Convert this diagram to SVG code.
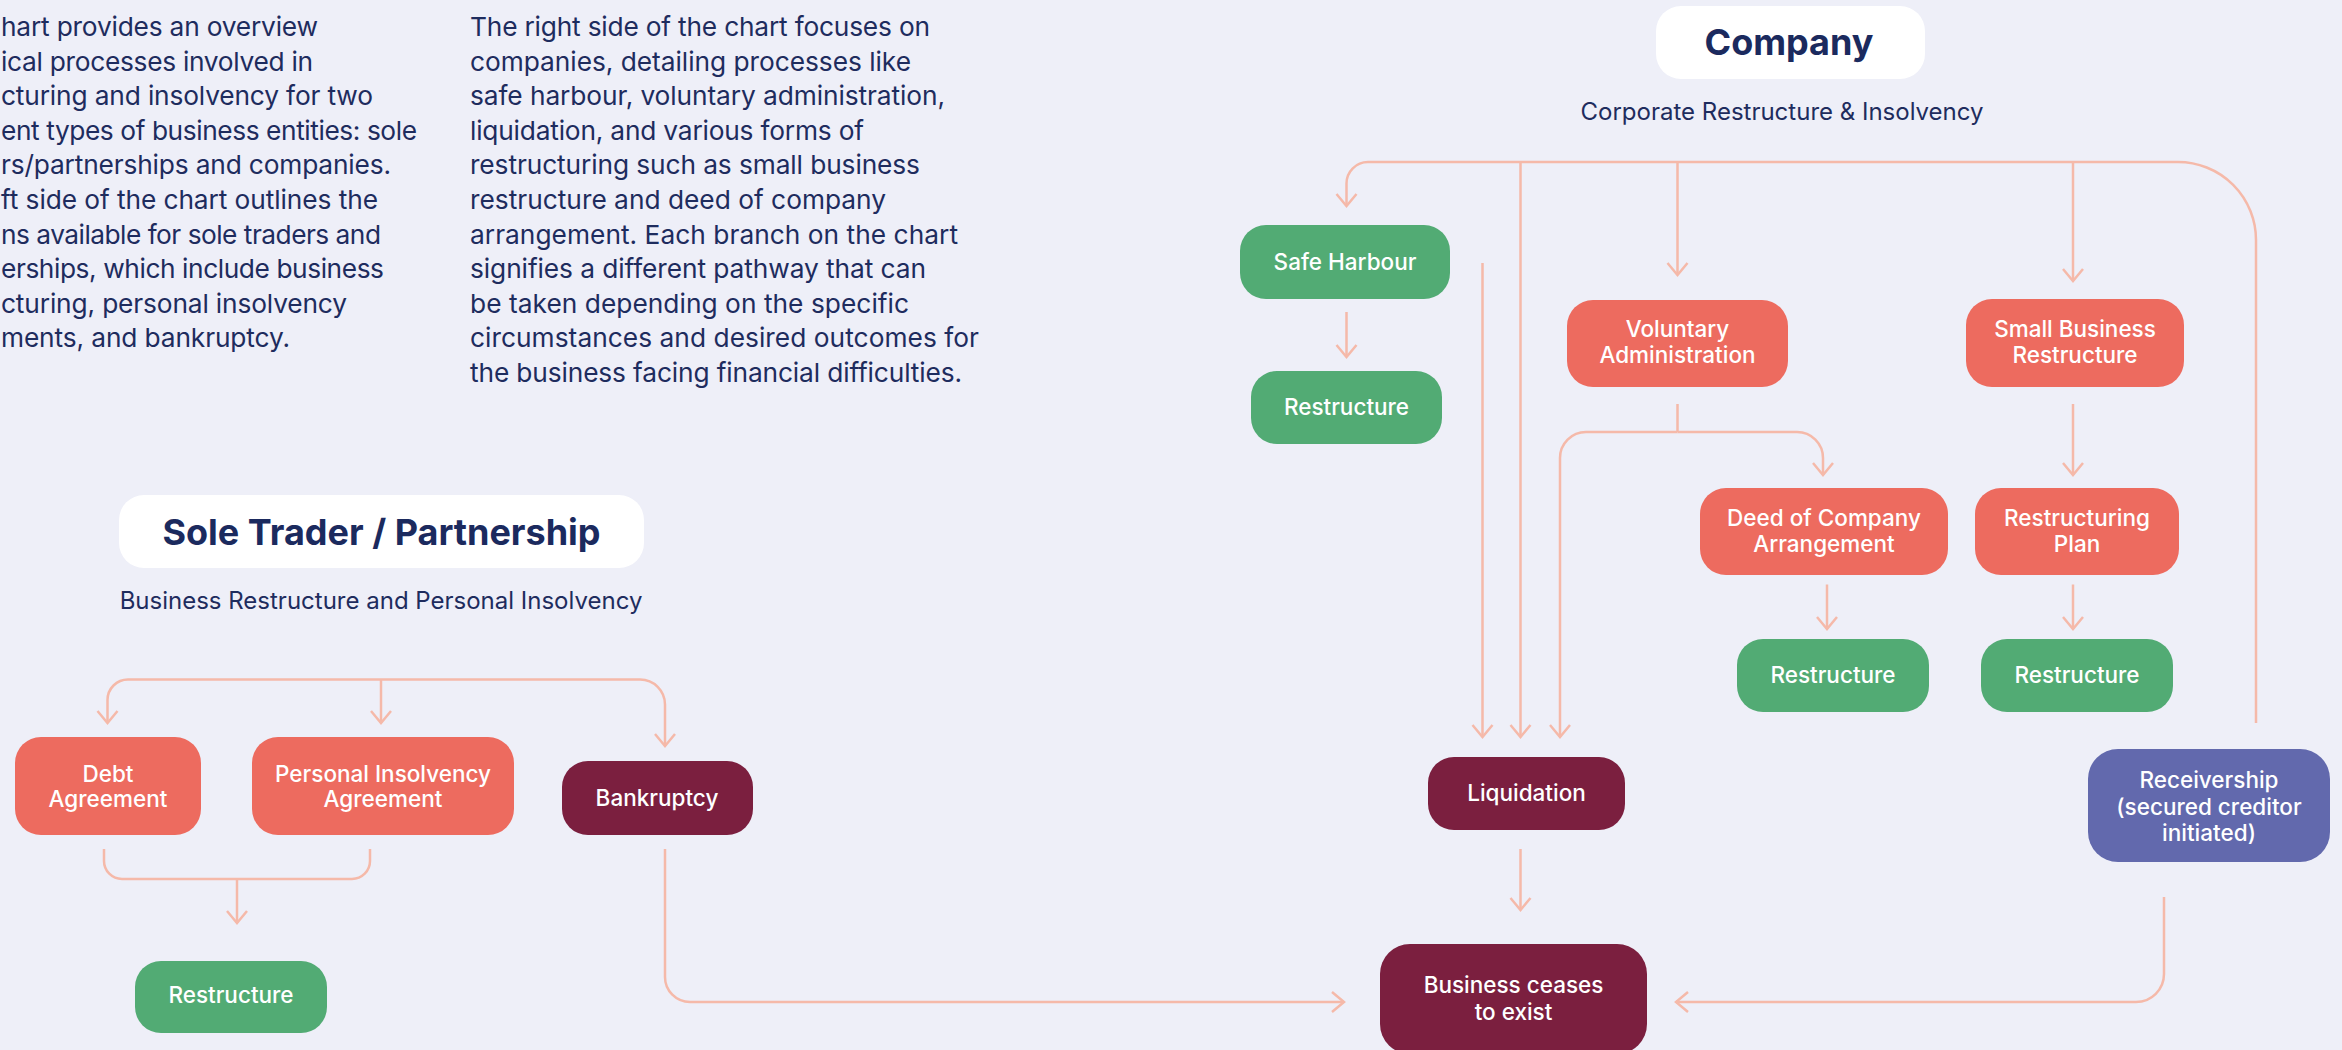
<svg xmlns="http://www.w3.org/2000/svg" width="2342" height="1050" viewBox="0 0 2342 1050">
<style>
.bg{fill:#eeeff8}
.body{font-family:Inter,"Liberation Sans",sans-serif;font-size:26.3px;fill:#1e2c5e}
.title{font-family:Inter,"Liberation Sans",sans-serif;font-size:36px;font-weight:700;fill:#1b2a5e;text-anchor:middle}
.sub{font-family:Inter,"Liberation Sans",sans-serif;font-size:24px;fill:#1e2c5e;text-anchor:middle}
.tbox{fill:#ffffff}
.lbl{font-family:Inter,"Liberation Sans",sans-serif;font-size:22.5px;font-weight:500;fill:#ffffff;text-anchor:middle}
.coral{fill:#ed6b5f}
.green{fill:#52ab74}
.maroon{fill:#7b1f3f}
.purple{fill:#6269ad}
.conn path{fill:none;stroke:#f5b9a9;stroke-width:2.5}
</style>
<defs>
<marker id="ah" viewBox="-15 -15 30 30" markerWidth="30" markerHeight="30" markerUnits="userSpaceOnUse" refX="0" refY="0" orient="auto">
<path d="M -12 -10 L 0 0 L -12 10" fill="none" stroke="#f5b9a9" stroke-width="2.5"/>
</marker>
</defs>
<rect class="bg" x="0" y="0" width="2342" height="1050"/>

<g id="intro-left" class="body">
<text x="1" y="36" textLength="317" lengthAdjust="spacing">hart provides an overview</text>
<text x="1" y="70.6" textLength="312" lengthAdjust="spacing">ical processes involved in</text>
<text x="1" y="105.2" textLength="372" lengthAdjust="spacing">cturing and insolvency for two</text>
<text x="1" y="139.8" textLength="416" lengthAdjust="spacing">ent types of business entities: sole</text>
<text x="1" y="174.4" textLength="390" lengthAdjust="spacing">rs/partnerships and companies.</text>
<text x="1" y="209" textLength="377" lengthAdjust="spacing">ft side of the chart outlines the</text>
<text x="1" y="243.6" textLength="380" lengthAdjust="spacing">ns available for sole traders and</text>
<text x="1" y="278.2" textLength="383" lengthAdjust="spacing">erships, which include business</text>
<text x="1" y="312.8" textLength="346" lengthAdjust="spacing">cturing, personal insolvency</text>
<text x="1" y="347.4" textLength="289" lengthAdjust="spacing">ments, and bankruptcy.</text>
</g>

<g id="intro-right" class="body">
<text x="470" y="36" textLength="460" lengthAdjust="spacing">The right side of the chart focuses on</text>
<text x="470" y="70.6" textLength="441" lengthAdjust="spacing">companies, detailing processes like</text>
<text x="470" y="105.2" textLength="475" lengthAdjust="spacing">safe harbour, voluntary administration,</text>
<text x="470" y="139.8" textLength="394" lengthAdjust="spacing">liquidation, and various forms of</text>
<text x="470" y="174.4" textLength="450" lengthAdjust="spacing">restructuring such as small business</text>
<text x="470" y="209" textLength="416" lengthAdjust="spacing">restructure and deed of company</text>
<text x="470" y="243.6" textLength="488" lengthAdjust="spacing">arrangement. Each branch on the chart</text>
<text x="470" y="278.2" textLength="456" lengthAdjust="spacing">signifies a different pathway that can</text>
<text x="470" y="312.8" textLength="439" lengthAdjust="spacing">be taken depending on the specific</text>
<text x="470" y="347.4" textLength="509" lengthAdjust="spacing">circumstances and desired outcomes for</text>
<text x="470" y="382" textLength="492" lengthAdjust="spacing">the business facing financial difficulties.</text>
</g>

<g id="connectors" class="conn">
<path d="M 381 679.5 H 128 A 20.5 20.5 0 0 0 107.5 700 V 723" marker-end="url(#ah)"/>
<path d="M 381 679.5 V 723" marker-end="url(#ah)"/>
<path d="M 381 679.5 H 640 A 25 25 0 0 1 665 704.5 V 746" marker-end="url(#ah)"/>
<path d="M 104 849 V 861 A 18 18 0 0 0 122 879 H 352 A 18 18 0 0 0 370 861 V 849"/>
<path d="M 237 879 V 923" marker-end="url(#ah)"/>
<path d="M 665 849 V 977 A 25 25 0 0 0 690 1002 H 1344" marker-end="url(#ah)"/>
<path d="M 1368 162 A 21.5 21.5 0 0 0 1346.5 183.5 V 206" marker-end="url(#ah)"/>
<path d="M 1368 162 H 2178 A 78 78 0 0 1 2256 240 V 723"/>
<path d="M 1520.5 162 V 737" marker-end="url(#ah)"/>
<path d="M 1677.5 162 V 275" marker-end="url(#ah)"/>
<path d="M 2073 162 V 281" marker-end="url(#ah)"/>
<path d="M 1346.5 312 V 357" marker-end="url(#ah)"/>
<path d="M 1482.5 263 V 737" marker-end="url(#ah)"/>
<path d="M 1677.5 404 V 432"/>
<path d="M 1677.5 432 H 1586 A 26 26 0 0 0 1560 458 V 737" marker-end="url(#ah)"/>
<path d="M 1677.5 432 H 1797 A 26 26 0 0 1 1823 458 V 475" marker-end="url(#ah)"/>
<path d="M 2073 404 V 475" marker-end="url(#ah)"/>
<path d="M 1827 584.5 V 629" marker-end="url(#ah)"/>
<path d="M 2073 584.5 V 629" marker-end="url(#ah)"/>
<path d="M 1520.5 849 V 910" marker-end="url(#ah)"/>
<path d="M 2164 897 V 974 A 28 28 0 0 1 2136 1002 H 1676" marker-end="url(#ah)"/>
</g>

<g id="title-sole">
<rect class="tbox" x="119" y="495" width="525" height="73" rx="25"/>
<text class="title" x="381.5" y="544.5">Sole Trader / Partnership</text>
</g>
<text id="sub-sole" class="sub" x="381" y="609">Business Restructure and Personal Insolvency</text>

<g id="title-company">
<rect class="tbox" x="1656" y="6" width="269" height="73" rx="25"/>
<text class="title" x="1789" y="55">Company</text>
</g>
<text id="sub-company" class="sub" x="1782" y="120">Corporate Restructure &amp; Insolvency</text>

<g id="n-debt">
<rect class="coral" x="15" y="737" width="186" height="98" rx="26"/>
<text class="lbl" x="108" y="782">Debt</text>
<text class="lbl" x="108" y="807">Agreement</text>
</g>
<g id="n-pia">
<rect class="coral" x="252" y="737" width="262" height="98" rx="26"/>
<text class="lbl" x="383" y="782">Personal Insolvency</text>
<text class="lbl" x="383" y="807">Agreement</text>
</g>
<g id="n-bankruptcy">
<rect class="maroon" x="562" y="761" width="191" height="74" rx="26"/>
<text class="lbl" x="657" y="806">Bankruptcy</text>
</g>
<g id="n-restructure-sole">
<rect class="green" x="135" y="961" width="192" height="72" rx="26"/>
<text class="lbl" x="231" y="1003">Restructure</text>
</g>

<g id="n-safe-harbour">
<rect class="green" x="1240" y="225" width="210" height="74" rx="26"/>
<text class="lbl" x="1345" y="270">Safe Harbour</text>
</g>
<g id="n-restructure-sh">
<rect class="green" x="1251" y="371" width="191" height="73" rx="26"/>
<text class="lbl" x="1346.5" y="415">Restructure</text>
</g>
<g id="n-va">
<rect class="coral" x="1567" y="300" width="221" height="87" rx="26"/>
<text class="lbl" x="1677.5" y="337">Voluntary</text>
<text class="lbl" x="1677.5" y="363">Administration</text>
</g>
<g id="n-sbr">
<rect class="coral" x="1966" y="299" width="218" height="88" rx="26"/>
<text class="lbl" x="2075" y="337">Small Business</text>
<text class="lbl" x="2075" y="363">Restructure</text>
</g>
<g id="n-doca">
<rect class="coral" x="1700" y="488" width="248" height="87" rx="26"/>
<text class="lbl" x="1824" y="525.5">Deed of Company</text>
<text class="lbl" x="1824" y="552">Arrangement</text>
</g>
<g id="n-rp">
<rect class="coral" x="1975" y="488" width="204" height="87" rx="26"/>
<text class="lbl" x="2077" y="525.5">Restructuring</text>
<text class="lbl" x="2077" y="552">Plan</text>
</g>
<g id="n-restructure-doca">
<rect class="green" x="1737" y="639" width="192" height="73" rx="26"/>
<text class="lbl" x="1833" y="683">Restructure</text>
</g>
<g id="n-restructure-rp">
<rect class="green" x="1981" y="639" width="192" height="73" rx="26"/>
<text class="lbl" x="2077" y="683">Restructure</text>
</g>
<g id="n-liquidation">
<rect class="maroon" x="1428" y="757" width="197" height="73" rx="26"/>
<text class="lbl" x="1526.5" y="801">Liquidation</text>
</g>
<g id="n-receivership">
<rect class="purple" x="2088" y="749" width="242" height="113" rx="30"/>
<text class="lbl" x="2209" y="788">Receivership</text>
<text class="lbl" x="2209" y="814.5">(secured creditor</text>
<text class="lbl" x="2209" y="840.5">initiated)</text>
</g>
<g id="n-ceases">
<rect class="maroon" x="1380" y="944" width="267" height="110" rx="30"/>
<text class="lbl" x="1513.5" y="993">Business ceases</text>
<text class="lbl" x="1513.5" y="1020">to exist</text>
</g>
</svg>
